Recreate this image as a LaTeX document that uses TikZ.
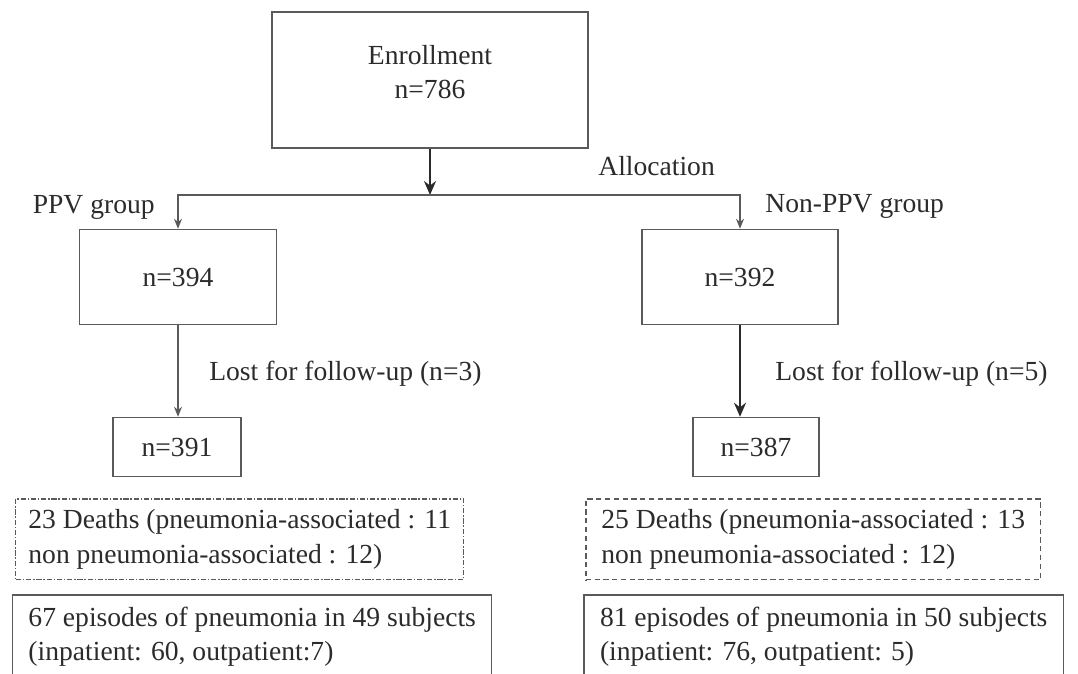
\documentclass[tikz,border=0pt]{standalone}
\usepackage{fontspec}
\setmainfont{Liberation Serif}
\usetikzlibrary{arrows.meta,positioning}
\definecolor{flowink}{HTML}{2B2B2B}
\definecolor{flowline}{HTML}{5A5A5A}
\tikzset{
  bx/.style={draw=flowline, line width=0.3mm, align=center, inner sep=2pt, text=flowink},
  grp/.style={bx, minimum width=39.4mm, minimum height=19mm},
  cnt/.style={bx, minimum height=11.8mm},
  note/.style={bx, align=left, anchor=north west, inner xsep=2.4mm},
  dth/.style={note, densely dashed, minimum height=16.2mm},
  epi/.style={note, minimum height=16.8mm},
  arr/.style={-{Stealth[length=2mm, width=1.6mm]}, line width=0.3mm, color=flowline},
  arrk/.style={-{Stealth[length=2.8mm, width=2.4mm]}, line width=0.55mm, color=flowink},
  lbl/.style={inner sep=0, text=flowink},
}
\begin{document}
\begin{tikzpicture}[x=0.02cm, y=-0.02cm, font=\fontsize{15.7pt}{19.5pt}\selectfont]
    \useasboundingbox (0,0) rectangle (1078,673);
    \clip (0,0) rectangle (1078,673);
    % enrollment and allocation
    \node[bx, minimum width=63.2mm, minimum height=27.2mm, text depth=3.2mm] (enr) at (430,80) {Enrollment\\n=786};
    \coordinate (sp) at (430,195);
    \draw[arrk] (enr.south) -- (sp);
    \node[lbl, anchor=base west] (alc) at (598,175) {Allocation};
    \node[grp] (ppv) at (178,277) {n=394};
    \node[grp, minimum width=39.2mm] (nppv) at (740,277) {n=392};
    \draw[arr] (sp) -| (ppv.north);
    \draw[arr] (sp) -| (nppv.north);
    \node[lbl, anchor=base east] (ppvl) at (155,213) {PPV group};
    \node[lbl, anchor=base west] (nppvl) at (765,212) {Non-PPV group};
    % follow-up
    \node[cnt, minimum width=25.6mm] (fl) at (177,447) {n=391};
    \node[cnt, minimum width=25.2mm] (fr) at (756,447) {n=387};
    \draw[arr] (ppv.south) -- (ppv.south |- fl.north);
    \draw[arrk] (nppv.south) -- (nppv.south |- fr.north);
    \node[lbl, anchor=base west] (lsl) at (209,380) {Lost for follow-up (n=3)};
    \node[lbl, anchor=base west] (lsr) at (775,380) {Lost for follow-up (n=5)};
    % outcomes
    \node[dth, densely dashdotted, minimum width=89.6mm] (dl) at (15,498) {23 Deaths (pneumonia-associated : 11\\non pneumonia-associated : 12)};
    \node[dth, minimum width=91mm] (dr) at (585,498) {25 Deaths (pneumonia-associated : 13\\non pneumonia-associated : 12)};
    \node[epi, minimum width=95.8mm] (el) at (12,594) {67 episodes of pneumonia in 49 subjects\\(inpatient: 60, outpatient:7)};
    \node[epi, minimum width=96mm] (er) at (583,594) {81 episodes of pneumonia in 50 subjects\\(inpatient: 76, outpatient: 5)};
\end{tikzpicture}
\end{document}
